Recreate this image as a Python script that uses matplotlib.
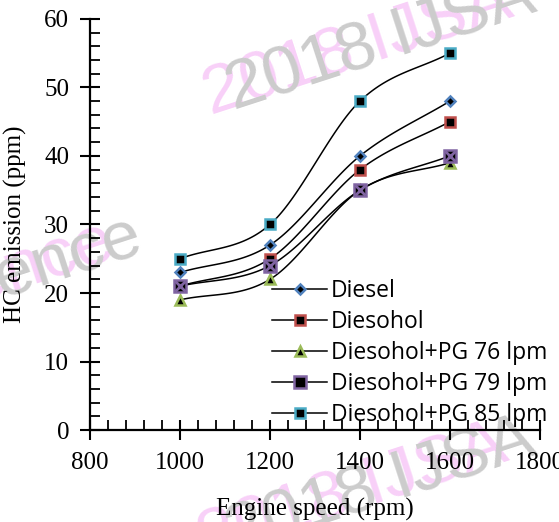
import numpy as np
import matplotlib.pyplot as plt
from matplotlib.ticker import MultipleLocator

speed = [1000, 1200, 1400, 1600]
diesel = [23, 27, 40, 48]
diesohol = [21, 25, 38, 45]
pg76 = [19, 22, 35, 39]
pg79 = [21, 24, 35, 40]
pg85 = [25, 30, 48, 55]
labels = ['Diesel', 'Diesohol', 'Diesohol+PG 76 lpm',
          'Diesohol+PG 79 lpm', 'Diesohol+PG 85 lpm']


def smooth(x, y, n=40):
    # catmull-rom style curve through the points (like excel smoothed line)
    x = np.asarray(x, float)
    y = np.asarray(y, float)
    px = np.concatenate([[2 * x[0] - x[1]], x, [2 * x[-1] - x[-2]]])
    py = np.concatenate([[2 * y[0] - y[1]], y, [2 * y[-1] - y[-2]]])
    xs, ys = [], []
    t = np.linspace(0, 1, n)
    for i in range(1, len(px) - 2):
        p0, p1, p2, p3 = px[i - 1], px[i], px[i + 1], px[i + 2]
        q0, q1, q2, q3 = py[i - 1], py[i], py[i + 1], py[i + 2]
        c1x, c1y = p1 + (p2 - p0) / 6, q1 + (q2 - q0) / 6
        c2x, c2y = p2 - (p3 - p1) / 6, q2 - (q3 - q1) / 6
        bx = (1-t)**3*p1 + 3*(1-t)**2*t*c1x + 3*(1-t)*t**2*c2x + t**3*p2
        by = (1-t)**3*q1 + 3*(1-t)**2*t*c1y + 3*(1-t)*t**2*c2y + t**3*q2
        xs.extend(bx)
        ys.extend(by)
    return xs, ys


fig = plt.figure(figsize=(5.59, 5.22), dpi=100)
ax = fig.add_axes([0.161, 0.176, 0.805, 0.788])
ax.patch.set_alpha(0)

# watermark, drawn behind the axes
wm = dict(fontsize=50, family='Liberation Sans', rotation=18, zorder=-5,
          ha='left', va='baseline')
fig.text(0.35, 0.78, '2018 IJSA', color='#f8d0f8', **wm)
fig.text(0.39, 0.79, '2018 IJSA', color='#cccccc', **wm)
fig.text(0.34, -0.07, '2018 IJSA', color='#f8d0f8', **wm)
fig.text(0.39, -0.06, '2018 IJSA', color='#cccccc', **wm)
fig.text(-0.075, 0.42, 'ence', color='#f8d0f8', **wm)
fig.text(-0.025, 0.43, 'ence', color='#cccccc', **wm)

series = [diesel, diesohol, pg76, pg79, pg85]
colors = ['#4F81BD', '#C0504D', '#9BBB59', '#8064A2', '#4BACC6']
markers = ['D', 's', '^', 's', 's']
sizes = [5.5, 7, 7, 8, 7]

handles = []
for vals, c, m, s, lab in zip(series, colors, markers, sizes, labels):
    sx, sy = smooth(speed, vals)
    ax.plot(sx, sy, color='black', lw=1.1, zorder=2)
    ax.plot(speed, vals, ls='none', marker=m, ms=s, mfc='black', mec=c,
            mew=1.8, zorder=3)
    h, = ax.plot([], [], color='black', lw=1.1, marker=m, ms=s, mfc='black',
                 mec=c, mew=1.8, label=lab)
    handles.append(h)
    if lab.endswith('79 lpm'):
        ax.plot(speed, vals, ls='none', marker='x', ms=s - 1, mec=c, mew=2,
                zorder=4)

ax.set_xlim(800, 1800)
ax.set_ylim(0, 60)
ax.xaxis.set_major_locator(MultipleLocator(200))
ax.xaxis.set_minor_locator(MultipleLocator(40))
ax.yaxis.set_major_locator(MultipleLocator(10))
ax.yaxis.set_minor_locator(MultipleLocator(2))
for sp in ['top', 'right']:
    ax.spines[sp].set_visible(False)
for sp in ['left', 'bottom']:
    ax.spines[sp].set_linewidth(1.6)
ax.tick_params(which='major', direction='inout', length=14, width=1.5,
               labelsize=18)
ax.tick_params(axis='x', which='major', pad=9)
ax.tick_params(axis='y', which='major', pad=8)
ax.tick_params(which='minor', direction='in', length=7, width=1.3)
for t in ax.get_xticklabels() + ax.get_yticklabels():
    t.set_family('Liberation Serif')

ax.set_xlabel('Engine speed (rpm)', family='Liberation Serif', fontsize=18)
ax.xaxis.set_label_coords(0.5, -0.165)
ax.set_ylabel('HC emission (ppm)', family='Liberation Serif', fontsize=18)
ax.yaxis.set_label_coords(-0.14, 0.5)

leg = ax.legend(handles=handles, loc='lower left',
                bbox_to_anchor=(0.487, 0.182), bbox_transform=fig.transFigure,
                frameon=False, prop={'family': 'Open Sans', 'size': 16.5},
                handlelength=2.4, labelspacing=0.3, handletextpad=0.15,
                borderpad=0, borderaxespad=0)

fig.savefig('out.png', dpi=100)
